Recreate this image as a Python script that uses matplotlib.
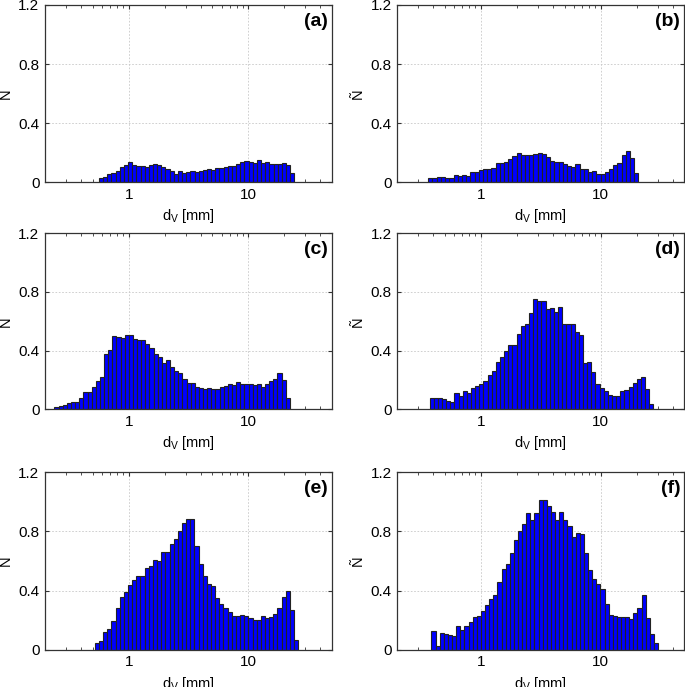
import numpy as np
import matplotlib
matplotlib.use("Agg")
import matplotlib.pyplot as plt
from matplotlib.ticker import LogLocator, NullFormatter

plt.rcParams['font.family'] = ['Liberation Sans', 'DejaVu Sans']
plt.rcParams['mathtext.fontset'] = 'custom'
plt.rcParams['mathtext.rm'] = 'Liberation Sans'
plt.rcParams['mathtext.it'] = 'Liberation Sans:italic'
plt.rcParams['axes.axisbelow'] = 'line'

panel_labels = ['(a)', '(b)', '(c)', '(d)', '(e)', '(f)']

# bin range ends (mm) of each histogram
d_lo = [0.565, 0.363, 0.240, 0.372, 0.521, 0.386]
d_hi = [24.2, 20.7, 22.2, 27.6, 26.1, 30.2]

N_a = [0.032, 0.036, 0.056, 0.065, 0.077, 0.106, 0.117, 0.135, 0.117, 0.113,
       0.110, 0.106, 0.120, 0.124, 0.120, 0.106, 0.093, 0.079, 0.059, 0.074,
       0.063, 0.068, 0.074, 0.072, 0.079, 0.083, 0.090, 0.083, 0.097, 0.099,
       0.106, 0.108, 0.113, 0.126, 0.138, 0.147, 0.140, 0.133, 0.149, 0.133,
       0.135, 0.124, 0.124, 0.126, 0.133, 0.120, 0.065]

N_b = [0.032, 0.032, 0.035, 0.033, 0.032, 0.032, 0.050, 0.040, 0.050, 0.044,
       0.068, 0.068, 0.086, 0.090, 0.093, 0.095, 0.130, 0.130, 0.135, 0.158,
       0.178, 0.200, 0.188, 0.185, 0.185, 0.190, 0.196, 0.194, 0.170, 0.147,
       0.140, 0.138, 0.126, 0.110, 0.104, 0.122, 0.088, 0.088, 0.070, 0.074,
       0.054, 0.056, 0.070, 0.088, 0.115, 0.130, 0.185, 0.210, 0.165, 0.063]

N_c = [0.016, 0.023, 0.030, 0.040, 0.050, 0.050, 0.080, 0.120, 0.120, 0.155,
       0.190, 0.220, 0.375, 0.405, 0.500, 0.490, 0.485, 0.510, 0.510, 0.480,
       0.470, 0.470, 0.445, 0.415, 0.380, 0.360, 0.315, 0.335, 0.290, 0.260,
       0.245, 0.205, 0.180, 0.180, 0.150, 0.145, 0.138, 0.145, 0.136, 0.136,
       0.154, 0.158, 0.172, 0.165, 0.183, 0.174, 0.170, 0.170, 0.167, 0.170,
       0.151, 0.170, 0.190, 0.205, 0.250, 0.200, 0.080]

N_d = [0.077, 0.077, 0.075, 0.068, 0.055, 0.048, 0.110, 0.090, 0.123, 0.114,
       0.148, 0.161, 0.173, 0.190, 0.234, 0.260, 0.323, 0.355, 0.400, 0.440,
       0.440, 0.516, 0.566, 0.580, 0.655, 0.755, 0.740, 0.736, 0.684, 0.689,
       0.664, 0.695, 0.580, 0.580, 0.584, 0.530, 0.507, 0.314, 0.320, 0.254,
       0.175, 0.143, 0.127, 0.098, 0.093, 0.093, 0.123, 0.134, 0.150, 0.182,
       0.207, 0.223, 0.141, 0.039]

N_e = [0.047, 0.056, 0.117, 0.142, 0.196, 0.285, 0.357, 0.393, 0.438, 0.470,
       0.497, 0.497, 0.555, 0.569, 0.609, 0.600, 0.661, 0.661, 0.715, 0.750,
       0.800, 0.856, 0.881, 0.885, 0.700, 0.582, 0.497, 0.443, 0.434, 0.353,
       0.312, 0.283, 0.256, 0.231, 0.231, 0.234, 0.227, 0.213, 0.204, 0.204,
       0.231, 0.213, 0.222, 0.240, 0.281, 0.355, 0.395, 0.270, 0.067]

N_f = [0.127, 0.022, 0.110, 0.103, 0.097, 0.094, 0.163, 0.134, 0.159, 0.185,
       0.223, 0.228, 0.261, 0.300, 0.342, 0.373, 0.458, 0.547, 0.583, 0.653,
       0.742, 0.800, 0.847, 0.923, 0.876, 0.927, 1.015, 1.015, 0.972, 0.932,
       0.878, 0.932, 0.876, 0.834, 0.760, 0.789, 0.784, 0.655, 0.540, 0.478,
       0.445, 0.411, 0.310, 0.235, 0.228, 0.223, 0.223, 0.223, 0.210, 0.248,
       0.280, 0.367, 0.212, 0.105, 0.045]

series = [N_a, N_b, N_c, N_d, N_e, N_f]

x_ticks = [1, 10]
x_ticklabels = ['1', '10']
y_ticks = [0, 0.4, 0.8, 1.2]
y_ticklabels = ['0', '0.4', '0.8', '1.2']

W, H = 685, 687
fig = plt.figure(figsize=(W / 100, H / 100), dpi=100)

col_left = [45, 397.3]
ax_w = 287
rows = [(5, 182.3), (233.3, 409.3), (472.3, 649.7)]

for i, (vals, lab) in enumerate(zip(series, panel_labels)):
    r, c = divmod(i, 2)
    top, bot = rows[r]
    ax = fig.add_axes([col_left[c] / W, 1 - bot / H, ax_w / W, (bot - top) / H])
    edges = np.logspace(np.log10(d_lo[i]), np.log10(d_hi[i]), len(vals) + 1)
    ax.bar(edges[:-1], vals, width=np.diff(edges), align='edge',
           color='#0000ff', edgecolor='#222222', linewidth=0.8, zorder=2)
    ax.set_xscale('log')
    ax.set_xlim(0.2, 50)
    ax.set_ylim(0, 1.2)
    ax.set_xticks(x_ticks)
    ax.set_xticklabels(x_ticklabels)
    ax.xaxis.set_minor_locator(LogLocator(base=10, subs=np.arange(2, 10)))
    ax.xaxis.set_minor_formatter(NullFormatter())
    ax.set_yticks(y_ticks)
    ax.set_yticklabels(y_ticklabels)
    ax.grid(True, which='major', linestyle=(0, (2, 2)), color='#c8c8c8',
            linewidth=0.6)
    ax.tick_params(which='major', direction='in', top=True, right=True,
                   length=3, labelsize=11, pad=4, color='#333333')
    ax.tick_params(which='minor', direction='in', top=True, right=True,
                   length=2, color='#333333')
    for s in ax.spines.values():
        s.set_color('#333333')
        s.set_linewidth(0.9)
        s.set_zorder(5)
    ax.set_xlabel(r'd$_{\rm V}$ [mm]', fontsize=10.5, labelpad=4)
    ax.set_ylabel('Ñ', fontsize=10.5, labelpad=4)
    ax.text(0.986, 0.955, lab, transform=ax.transAxes, ha='right', va='top',
            fontsize=14, fontweight='bold', zorder=6)

fig.savefig('out.png', dpi=100)
